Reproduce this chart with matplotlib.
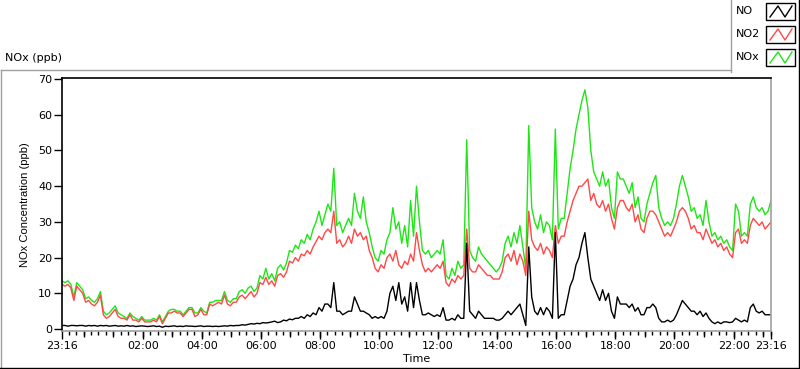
import matplotlib
matplotlib.use('Agg')
import matplotlib.pyplot as plt
import numpy as np
from matplotlib.lines import Line2D
from matplotlib.patches import Rectangle

# 6-minute samples starting at 23:16 (one row = one hour)
no2 = [12.5, 12, 12.5, 11.5, 8, 12, 11, 10, 7.5, 8,
       7, 6.5, 7.5, 9.5, 4, 3, 3.5, 4.5, 5.5, 3.5,
       3, 3, 2.5, 4, 2.5, 2.5, 2, 3, 2, 2,
       2, 2.5, 2, 3.5, 1.5, 3, 4.5, 4.5, 5, 4.5,
       4.5, 3.5, 4.5, 5.5, 5.5, 3.5, 4, 5.5, 4, 4,
       7, 6.5, 7, 7.5, 7, 9.5, 7, 6.5, 7.5, 7.5,
       9, 9.5, 8.5, 9.5, 10.5, 9, 10, 13, 12.5, 14.5,
       12.5, 13.5, 12, 15, 15.5, 14.5, 16, 19, 18.5, 20,
       19, 21, 20.5, 22, 21, 23, 24.5, 26, 25, 27,
       28, 27, 33, 24, 25, 23, 24, 26, 24, 28,
       26, 27, 25, 26, 22, 20, 17, 16, 18, 17,
       20, 21, 19, 22, 18, 17, 19, 18, 21, 19,
       27, 22, 18, 16, 17, 16, 17, 18, 17, 19,
       13, 12, 14, 13, 15, 14, 15, 28, 17, 16,
       16, 18, 17, 16, 15, 15, 14, 14, 14, 16,
       20, 21, 19, 22, 18, 21, 19, 15, 33, 25,
       23, 22, 24, 21, 23, 22, 20, 29, 24, 26,
       26, 30, 33, 36, 38, 40, 40, 41, 42, 36,
       38, 35, 34, 36, 33, 35, 31, 28, 34, 36,
       36, 34, 33, 35, 30, 32, 28, 27, 31, 33,
       33, 32, 30, 28, 26, 27, 26, 28, 30, 33,
       34, 33, 31, 28, 29, 27, 27, 25, 28, 26,
       24, 25, 23, 24, 22, 23, 21, 20, 27, 28,
       24, 25, 24, 29, 31, 30, 29, 30, 28, 29, 30]

nox = [13.5, 13, 13.5, 12.5, 9, 13, 12, 11, 8.5, 9,
       8, 7.5, 8.5, 10.5, 5, 4, 4.5, 5.5, 6.5, 4.5,
       4, 3.5, 3, 4.5, 3.5, 3, 2.5, 3.5, 2.5, 2.5,
       2.5, 3, 2.5, 4, 2, 3.5, 5, 5.5, 5.5, 5,
       5, 4, 5, 6, 6, 4.5, 4.5, 6, 5, 4.5,
       7.5, 7.5, 8, 8, 8, 10.5, 8, 7.5, 8.5, 8.5,
       10.5, 11, 10, 11.5, 12, 10.5, 11.5, 15, 14, 17,
       14, 15.5, 13.5, 17, 18, 16.5, 18.5, 22, 21.5, 23.5,
       22.5, 25, 24, 26.5, 25, 28, 30, 33, 29, 32,
       35, 33, 45, 29, 30, 27, 29, 31, 29, 38,
       33, 31, 37, 30, 27, 23, 20, 19, 22, 21,
       25, 27, 34, 28, 30, 24, 29, 23, 36, 26,
       40, 30, 22, 21, 22, 20, 21, 22, 21, 25,
       15, 14, 17, 15, 19, 17, 18, 53, 22, 20,
       19, 23, 21, 20, 19, 18, 17, 16, 17, 19,
       24, 26, 23, 27, 24, 29, 23, 17, 57, 34,
       30, 28, 32, 27, 30, 29, 25, 56, 28, 31,
       31, 38, 45, 50, 56, 60, 64, 67, 62, 50,
       44, 42, 40, 44, 40, 42, 34, 31, 44, 42,
       42, 40, 38, 41, 34, 37, 31, 30, 35, 38,
       41, 43, 34, 31, 29, 30, 29, 31, 35, 40,
       43, 40, 37, 33, 34, 31, 32, 29, 36, 30,
       26, 27, 25, 26, 24, 25, 23, 22, 35, 33,
       26, 27, 26, 35, 37, 34, 33, 34, 32, 33, 36]

no = [1, 1, 0.8, 1, 1, 0.9, 1, 1, 0.8, 1,
      0.9, 1, 0.8, 1, 0.9, 1, 0.8, 0.9, 1, 0.8,
      0.9, 0.8, 1, 0.8, 0.9, 0.7, 0.8, 0.9, 0.8, 0.7,
      0.8, 0.9, 0.7, 0.8, 0.5, 0.8, 0.7, 0.8, 0.9, 0.7,
      0.8, 0.7, 0.9, 0.8, 0.8, 0.7, 0.8, 0.9, 0.7, 0.8,
      0.8, 0.7, 0.8, 0.7, 0.8, 0.9, 0.8, 1, 0.9, 1,
      1, 1.2, 1.1, 1.3, 1.5, 1.4, 1.6, 1.5, 1.8, 1.7,
      1.8, 2, 2.2, 1.8, 2, 2.5, 2.3, 2.8, 2.6, 3,
      3, 3.5, 3, 4, 3.5, 4.5, 4, 6, 5, 7,
      7, 6, 13, 5, 5, 4, 4.5, 5, 5, 9,
      7, 5, 5, 4.5, 4, 3, 3.5, 3, 3.5, 3,
      5, 10, 12, 8, 13, 7, 9, 5, 13, 6,
      13, 8, 4, 4, 4.5, 4, 3.5, 4, 3.5, 6,
      2.5, 2.5, 3, 2.5, 4, 3, 3, 24, 5, 4,
      3, 5, 4, 3, 3, 3, 3, 2.5, 2.5, 3,
      4, 5, 4, 5, 6, 7, 4, 1, 23, 9,
      5, 4, 6, 4, 6, 5, 3, 27, 3, 4,
      4, 8, 12, 14, 18, 20, 24, 27, 20, 14,
      12, 10, 8, 11, 8, 10, 5, 3, 9, 7,
      7, 7, 6, 7, 5, 6, 4, 4, 6, 6,
      7, 6, 3, 2, 2, 2.5, 2, 2.5, 4, 6,
      8, 7, 6, 5, 5, 4, 5, 3.5, 4.5, 3,
      2, 1.5, 2, 1.5, 2, 2, 1.8, 2, 3, 2.5,
      2, 2.5, 2, 6, 7, 5, 4.5, 5, 4, 4, 4]

tick_labels = ['23:16', '02:00', '04:00', '06:00', '08:00', '10:00', '12:00',
               '14:00', '16:00', '18:00', '20:00', '22:00', '23:16']
tick_pos = [0, 164, 284, 404, 524, 644, 764, 884, 1004, 1124, 1244, 1364, 1440]

t = np.arange(len(no2)) * 6

W, H = 800, 369
fig = plt.figure(figsize=(8, 3.69), dpi=100)

def fx(x):
    return x / W

def fy(y):
    return 1 - y / H

ax = fig.add_axes([fx(62), fy(331), fx(771) - fx(62), fy(78) - fy(331)])
ax.plot(t, nox, color='#1ee614', lw=1.0)
ax.plot(t, no2, color='#ff4848', lw=1.0)
ax.plot(t, no, color='black', lw=1.0)

ax.set_xlim(0, 1440)
ax.set_ylim(-0.55, 70.3)
ax.set_yticks(range(0, 71, 10))
ax.set_xticks(tick_pos)
ax.set_xticklabels(tick_labels)
ax.set_xticks(np.arange(14, 1440, 15), minor=True)
ax.tick_params(axis='x', which='major', length=6, width=1, labelsize=8, pad=1)
ax.tick_params(axis='x', which='minor', length=3, width=1)
ax.tick_params(axis='y', length=6, width=1, labelsize=8, pad=1)

# hour ticks, a bit longer than the 15 min ones
sec = ax.secondary_xaxis('bottom')
sec.set_xticks(np.arange(44, 1440, 60))
sec.set_xticklabels([])
sec.tick_params(length=4.5, width=1)
sec.spines['bottom'].set_visible(False)

for s in ['top', 'left']:
    ax.spines[s].set_color('black')
    ax.spines[s].set_linewidth(1.2)
for s in ['bottom', 'right']:
    ax.spines[s].set_color('#a0a0a0')
    ax.spines[s].set_linewidth(1.2)

ax.set_xlabel('Time', fontsize=8, labelpad=2)
ax.set_ylabel('NOx Concentration (ppb)', fontsize=8, family='Liberation Sans', labelpad=6)

fig.text(fx(5), fy(58), 'NOx (ppb)', fontsize=8, va='center', ha='left')

# outer frame
fig.add_artist(Line2D([fx(0.5), fx(731)], [fy(69.5), fy(69.5)], color='#a0a0a0', lw=1))
fig.add_artist(Line2D([fx(0.5), fx(0.5)], [fy(69.5), fy(367)], color='#a0a0a0', lw=1))
fig.add_artist(Line2D([fx(0), fx(800)], [fy(367.5), fy(367.5)], color='black', lw=1))
fig.add_artist(Line2D([fx(798.5), fx(798.5)], [fy(0), fy(368)], color='black', lw=1))
fig.add_artist(Line2D([fx(731), fx(731)], [fy(0), fy(72)], color='#a0a0a0', lw=1))

# legend
names = ['NO', 'NO2', 'NOx']
colors = ['black', '#ff4848', '#1ee614']
for i in range(3):
    top = 3 + 23 * i
    fig.text(fx(736), fy(top + 8), names[i], fontsize=8, va='center', ha='left')
    fig.add_artist(Rectangle((fx(766), fy(top + 17)), fx(795) - fx(766), fy(top) - fy(top + 17),
                             fill=False, edgecolor='black', lw=1))
    zx = [770, 778, 785, 792]
    zy = [top + 14, top + 3, top + 14, top + 3]
    fig.add_artist(Line2D([fx(v) for v in zx], [fy(v) for v in zy], color=colors[i], lw=1))

fig.savefig('out.png', dpi=100)
